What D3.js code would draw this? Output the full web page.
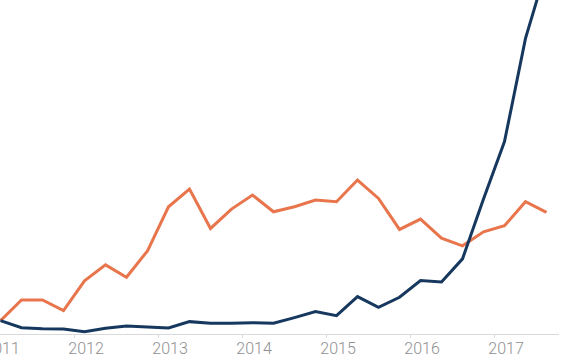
<!DOCTYPE html>
<html>
<head>
<meta charset="utf-8">
<script src="https://cdn.jsdelivr.net/npm/d3@7"></script>
<style>
  html, body { margin: 0; padding: 0; background: #fff; }
  svg { display: block; }
</style>
</head>
<body>
<div id="chart"></div>
<script>
// quarterly series, Q1 2011 .. Q3 2017
const quarters = [
  '2011 Q1', '2011 Q2', '2011 Q3', '2011 Q4',
  '2012 Q1', '2012 Q2', '2012 Q3', '2012 Q4',
  '2013 Q1', '2013 Q2', '2013 Q3', '2013 Q4',
  '2014 Q1', '2014 Q2', '2014 Q3', '2014 Q4',
  '2015 Q1', '2015 Q2', '2015 Q3', '2015 Q4',
  '2016 Q1', '2016 Q2', '2016 Q3', '2016 Q4',
  '2017 Q1', '2017 Q2', '2017 Q3'
];
const orangeValues = [4.0, 10.2, 10.2, 7.0, 15.9, 20.7, 17.0, 24.9, 38.1, 43.4, 31.6, 37.4, 41.6, 36.6, 38.1, 40.1, 39.6, 46.1, 40.6, 31.3, 34.4, 28.7, 26.4, 30.6, 32.4, 39.6, 36.4];
const blueValues = [4.0, 1.9, 1.6, 1.5, 0.7, 1.7, 2.4, 2.1, 1.8, 3.7, 3.2, 3.2, 3.4, 3.2, 4.9, 6.7, 5.5, 11.2, 8.0, 11.0, 16.0, 15.6, 22.5, 40.4, 57.6, 88.5, 109.6];
const yearTicks = [2011, 2012, 2013, 2014, 2015, 2016, 2017];

const width = 572, height = 364;
const baseline = 334;

// quarter label -> decimal year at the middle of the quarter
const quarterTime = q => {
  const [y, qq] = q.split(' Q');
  return +y + (+qq - 0.5) / 4;
};

const x = d3.scaleLinear().domain([2011, 2018]).range([-10, 578]);
const y = d3.scaleLinear().domain([0, 100]).range([baseline, 0]);

const svg = d3.select('#chart').append('svg')
  .attr('width', width)
  .attr('height', height);

// axis
svg.append('line')
  .attr('x1', 0).attr('x2', 559)
  .attr('y1', baseline + 0.5).attr('y2', baseline + 0.5)
  .attr('stroke', '#d9d9d9');

const xAxis = d3.axisBottom(x).tickValues(yearTicks).tickSize(4).tickFormat(d3.format('d'));
const ax = svg.append('g').attr('transform', `translate(0,${baseline})`).call(xAxis);
ax.select('.domain').remove();
ax.selectAll('.tick line').attr('stroke', '#d9d9d9');
ax.selectAll('.tick text')
  .attr('dx', 11.5)
  .attr('y', 9)
  .attr('dy', '0.71em')
  .attr('fill', '#8f8f8f')
  .style('font-family', 'Roboto, sans-serif')
  .style('font-size', '16px')
  .style('font-weight', 300);

const line = d3.line()
  .x((d, i) => x(quarterTime(quarters[i])))
  .y(d => y(d));

svg.append('path')
  .datum(orangeValues)
  .attr('d', line)
  .attr('fill', 'none')
  .attr('stroke', '#e8754c')
  .attr('stroke-width', 3)
  .attr('stroke-linejoin', 'miter');

svg.append('path')
  .datum(blueValues)
  .attr('d', line)
  .attr('fill', 'none')
  .attr('stroke', '#17385e')
  .attr('stroke-width', 3)
  .attr('stroke-linejoin', 'miter');
</script>
</body>
</html>
